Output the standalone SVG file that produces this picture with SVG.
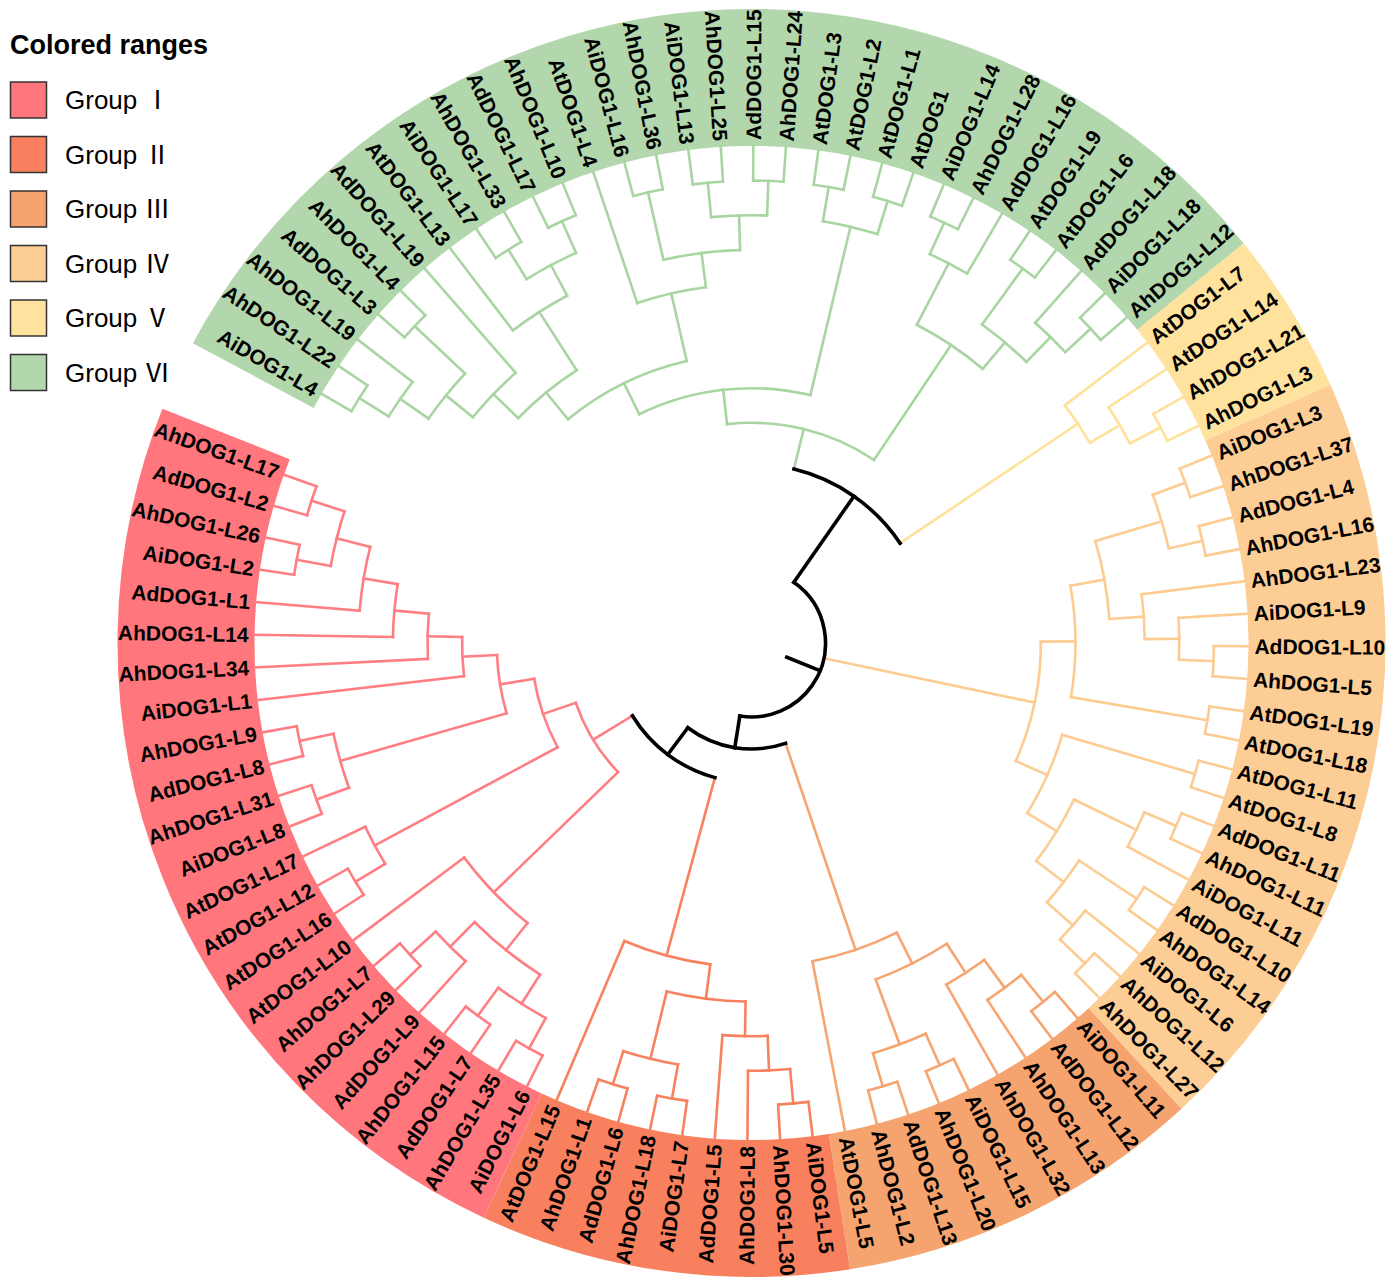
<svg xmlns="http://www.w3.org/2000/svg" width="1398" height="1286" viewBox="0 0 1398 1286">
<style>
.e line,.e circle{fill:none;stroke-linecap:square}
.g1{stroke:#FF7E84;stroke-width:2.6}
.g2{stroke:#F8825F;stroke-width:2.6}
.g3{stroke:#F6A570;stroke-width:2.6}
.g4{stroke:#FCCC92;stroke-width:2.6}
.g5{stroke:#FFE199;stroke-width:2.6}
.g6{stroke:#A9D5A2;stroke-width:2.6}
.k{stroke:#000;stroke-width:3.6}
.band{fill:none;stroke-width:137}
.t{font:bold 21px "Liberation Sans",Arial,sans-serif;fill:#000}
.f{text-anchor:end}
.lt{font:bold 27px "Liberation Sans",Arial,sans-serif;fill:#000}
.lg{font:26px "Liberation Sans","Noto Sans CJK SC",sans-serif;fill:#000}
.sq{stroke:#333;stroke-width:1.5}
</style>
<rect width="1398" height="1286" fill="#fff"/>
<g id="colored-ranges" transform="translate(751.5 643)">
<circle class="band" r="565.5" stroke="#B2D7AC" pathLength="360" stroke-dasharray="112.71 360" transform="rotate(208.22)"/>
<circle class="band" r="565.5" stroke="#FFE29E" pathLength="360" stroke-dasharray="15.03 360" transform="rotate(320.93)"/>
<circle class="band" r="565.5" stroke="#FDCD96" pathLength="360" stroke-dasharray="71.33 360" transform="rotate(335.96)"/>
<circle class="band" r="565.5" stroke="#F6A46F" pathLength="360" stroke-dasharray="33.76 360" transform="rotate(47.29)"/>
<circle class="band" r="565.5" stroke="#F8805F" pathLength="360" stroke-dasharray="33.93 360" transform="rotate(81.05)"/>
<circle class="band" r="565.5" stroke="#FF777C" pathLength="360" stroke-dasharray="86.71 360" transform="rotate(114.98)"/>
</g>
<g id="connectors" class="e" transform="translate(751.5 643)">
<g id="edges-group-VI" class="g6">
<line x1="462.4" x2="497" transform="rotate(210.1)"/>
<line x1="462.4" x2="497" transform="rotate(213.86)"/>
<line x1="427.8" x2="497" transform="rotate(217.61)"/>
<line x1="462.4" x2="497" transform="rotate(221.37)"/>
<line x1="462.4" x2="497" transform="rotate(225.13)"/>
<line x1="358.6" x2="497" transform="rotate(228.89)"/>
<line x1="393.2" x2="497" transform="rotate(232.64)"/>
<line x1="462.4" x2="497" transform="rotate(236.4)"/>
<line x1="462.4" x2="497" transform="rotate(240.16)"/>
<line x1="462.4" x2="497" transform="rotate(243.91)"/>
<line x1="462.4" x2="497" transform="rotate(247.67)"/>
<line x1="358.6" x2="497" transform="rotate(251.43)"/>
<line x1="462.4" x2="497" transform="rotate(255.18)"/>
<line x1="462.4" x2="497" transform="rotate(258.94)"/>
<line x1="462.4" x2="497" transform="rotate(262.7)"/>
<line x1="462.4" x2="497" transform="rotate(266.46)"/>
<line x1="462.4" x2="497" transform="rotate(270.21)"/>
<line x1="462.4" x2="497" transform="rotate(273.97)"/>
<line x1="462.4" x2="497" transform="rotate(277.73)"/>
<line x1="462.4" x2="497" transform="rotate(281.48)"/>
<line x1="462.4" x2="497" transform="rotate(285.24)"/>
<line x1="462.4" x2="497" transform="rotate(289)"/>
<line x1="462.4" x2="497" transform="rotate(292.75)"/>
<line x1="462.4" x2="497" transform="rotate(296.51)"/>
<line x1="427.8" x2="497" transform="rotate(300.27)"/>
<line x1="462.4" x2="497" transform="rotate(304.03)"/>
<line x1="462.4" x2="497" transform="rotate(307.78)"/>
<line x1="427.8" x2="497" transform="rotate(311.54)"/>
<line x1="462.4" x2="497" transform="rotate(315.3)"/>
<line x1="462.4" x2="497" transform="rotate(319.05)"/>
<circle r="462.4" pathLength="360" stroke-dasharray="3.76 360" transform="rotate(210.1)"/>
<line x1="427.8" x2="462.4" transform="rotate(211.98)"/>
<circle r="427.8" pathLength="360" stroke-dasharray="5.63 360" transform="rotate(211.98)"/>
<line x1="393.2" x2="427.8" transform="rotate(214.8)"/>
<circle r="462.4" pathLength="360" stroke-dasharray="3.76 360" transform="rotate(221.37)"/>
<line x1="393.2" x2="462.4" transform="rotate(223.25)"/>
<circle r="393.2" pathLength="360" stroke-dasharray="8.45 360" transform="rotate(214.8)"/>
<line x1="358.6" x2="393.2" transform="rotate(219.02)"/>
<circle r="358.6" pathLength="360" stroke-dasharray="9.87 360" transform="rotate(219.02)"/>
<line x1="324" x2="358.6" transform="rotate(223.96)"/>
<circle r="462.4" pathLength="360" stroke-dasharray="3.76 360" transform="rotate(236.4)"/>
<line x1="427.8" x2="462.4" transform="rotate(238.28)"/>
<circle r="462.4" pathLength="360" stroke-dasharray="3.76 360" transform="rotate(243.91)"/>
<line x1="427.8" x2="462.4" transform="rotate(245.79)"/>
<circle r="427.8" pathLength="360" stroke-dasharray="7.51 360" transform="rotate(238.28)"/>
<line x1="393.2" x2="427.8" transform="rotate(242.04)"/>
<circle r="393.2" pathLength="360" stroke-dasharray="9.4 360" transform="rotate(232.64)"/>
<line x1="324" x2="393.2" transform="rotate(237.34)"/>
<circle r="324" pathLength="360" stroke-dasharray="13.38 360" transform="rotate(223.96)"/>
<line x1="289.4" x2="324" transform="rotate(230.65)"/>
<circle r="462.4" pathLength="360" stroke-dasharray="3.76 360" transform="rotate(255.18)"/>
<line x1="393.2" x2="462.4" transform="rotate(257.06)"/>
<circle r="462.4" pathLength="360" stroke-dasharray="3.76 360" transform="rotate(262.7)"/>
<line x1="427.8" x2="462.4" transform="rotate(264.58)"/>
<circle r="462.4" pathLength="360" stroke-dasharray="3.76 360" transform="rotate(270.21)"/>
<line x1="427.8" x2="462.4" transform="rotate(272.09)"/>
<circle r="427.8" pathLength="360" stroke-dasharray="7.51 360" transform="rotate(264.58)"/>
<line x1="393.2" x2="427.8" transform="rotate(268.34)"/>
<circle r="393.2" pathLength="360" stroke-dasharray="11.28 360" transform="rotate(257.06)"/>
<line x1="358.6" x2="393.2" transform="rotate(262.7)"/>
<circle r="358.6" pathLength="360" stroke-dasharray="11.27 360" transform="rotate(251.43)"/>
<line x1="289.4" x2="358.6" transform="rotate(257.07)"/>
<circle r="289.4" pathLength="360" stroke-dasharray="26.42 360" transform="rotate(230.65)"/>
<line x1="254.8" x2="289.4" transform="rotate(243.86)"/>
<circle r="462.4" pathLength="360" stroke-dasharray="3.75 360" transform="rotate(277.73)"/>
<line x1="427.8" x2="462.4" transform="rotate(279.61)"/>
<circle r="462.4" pathLength="360" stroke-dasharray="3.76 360" transform="rotate(285.24)"/>
<line x1="427.8" x2="462.4" transform="rotate(287.12)"/>
<circle r="427.8" pathLength="360" stroke-dasharray="7.51 360" transform="rotate(279.61)"/>
<line x1="254.8" x2="427.8" transform="rotate(283.37)"/>
<circle r="254.8" pathLength="360" stroke-dasharray="39.51 360" transform="rotate(243.86)"/>
<line x1="220.2" x2="254.8" transform="rotate(263.62)"/>
<circle r="462.4" pathLength="360" stroke-dasharray="3.76 360" transform="rotate(292.75)"/>
<line x1="427.8" x2="462.4" transform="rotate(294.63)"/>
<circle r="427.8" pathLength="360" stroke-dasharray="5.64 360" transform="rotate(294.63)"/>
<line x1="358.6" x2="427.8" transform="rotate(297.45)"/>
<circle r="462.4" pathLength="360" stroke-dasharray="3.75 360" transform="rotate(304.03)"/>
<line x1="393.2" x2="462.4" transform="rotate(305.91)"/>
<circle r="462.4" pathLength="360" stroke-dasharray="3.75 360" transform="rotate(315.3)"/>
<line x1="427.8" x2="462.4" transform="rotate(317.18)"/>
<circle r="427.8" pathLength="360" stroke-dasharray="5.64 360" transform="rotate(311.54)"/>
<line x1="393.2" x2="427.8" transform="rotate(314.36)"/>
<circle r="393.2" pathLength="360" stroke-dasharray="8.45 360" transform="rotate(305.91)"/>
<line x1="358.6" x2="393.2" transform="rotate(310.14)"/>
<circle r="358.6" pathLength="360" stroke-dasharray="12.69 360" transform="rotate(297.45)"/>
<line x1="220.2" x2="358.6" transform="rotate(303.8)"/>
<circle r="220.2" pathLength="360" stroke-dasharray="40.18 360" transform="rotate(263.62)"/>
<line x1="179" x2="220.2" transform="rotate(283.71)"/>
</g>
<g id="edges-group-V" class="g5">
<line x1="393.2" x2="497" transform="rotate(322.81)"/>
<line x1="427.8" x2="497" transform="rotate(326.57)"/>
<line x1="462.4" x2="497" transform="rotate(330.32)"/>
<line x1="462.4" x2="497" transform="rotate(334.08)"/>
<circle r="462.4" pathLength="360" stroke-dasharray="3.76 360" transform="rotate(330.32)"/>
<line x1="427.8" x2="462.4" transform="rotate(332.2)"/>
<circle r="427.8" pathLength="360" stroke-dasharray="5.63 360" transform="rotate(326.57)"/>
<line x1="393.2" x2="427.8" transform="rotate(329.39)"/>
<circle r="393.2" pathLength="360" stroke-dasharray="6.58 360" transform="rotate(322.81)"/>
<line x1="179" x2="393.2" transform="rotate(326.1)"/>
</g>
<g id="edges-group-IV" class="g4">
<line x1="462.4" x2="497" transform="rotate(337.84)"/>
<line x1="462.4" x2="497" transform="rotate(341.6)"/>
<line x1="462.4" x2="497" transform="rotate(345.35)"/>
<line x1="462.4" x2="497" transform="rotate(349.11)"/>
<line x1="393.2" x2="497" transform="rotate(352.87)"/>
<line x1="427.8" x2="497" transform="rotate(356.62)"/>
<line x1="462.4" x2="497" transform="rotate(0.38)"/>
<line x1="462.4" x2="497" transform="rotate(4.14)"/>
<line x1="462.4" x2="497" transform="rotate(7.89)"/>
<line x1="462.4" x2="497" transform="rotate(11.32)"/>
<line x1="462.4" x2="497" transform="rotate(14.74)"/>
<line x1="462.4" x2="497" transform="rotate(18.17)"/>
<line x1="462.4" x2="497" transform="rotate(21.59)"/>
<line x1="462.4" x2="497" transform="rotate(25.02)"/>
<line x1="427.8" x2="497" transform="rotate(28.44)"/>
<line x1="462.4" x2="497" transform="rotate(31.87)"/>
<line x1="462.4" x2="497" transform="rotate(35.29)"/>
<line x1="427.8" x2="497" transform="rotate(38.72)"/>
<line x1="462.4" x2="497" transform="rotate(42.14)"/>
<line x1="462.4" x2="497" transform="rotate(45.57)"/>
<circle r="462.4" pathLength="360" stroke-dasharray="3.76 360" transform="rotate(337.84)"/>
<line x1="427.8" x2="462.4" transform="rotate(339.72)"/>
<circle r="462.4" pathLength="360" stroke-dasharray="3.76 360" transform="rotate(345.35)"/>
<line x1="427.8" x2="462.4" transform="rotate(347.23)"/>
<circle r="427.8" pathLength="360" stroke-dasharray="7.51 360" transform="rotate(339.72)"/>
<line x1="358.6" x2="427.8" transform="rotate(343.48)"/>
<circle r="462.4" pathLength="360" stroke-dasharray="3.76 360" transform="rotate(0.38)"/>
<line x1="427.8" x2="462.4" transform="rotate(2.26)"/>
<circle r="427.8" pathLength="360" stroke-dasharray="5.64 360" transform="rotate(356.62)"/>
<line x1="393.2" x2="427.8" transform="rotate(359.44)"/>
<circle r="393.2" pathLength="360" stroke-dasharray="6.57 360" transform="rotate(352.87)"/>
<line x1="358.6" x2="393.2" transform="rotate(356.16)"/>
<circle r="358.6" pathLength="360" stroke-dasharray="12.68 360" transform="rotate(343.48)"/>
<line x1="324" x2="358.6" transform="rotate(349.82)"/>
<circle r="462.4" pathLength="360" stroke-dasharray="3.43 360" transform="rotate(7.89)"/>
<line x1="324" x2="462.4" transform="rotate(9.61)"/>
<circle r="324" pathLength="360" stroke-dasharray="19.79 360" transform="rotate(349.82)"/>
<line x1="289.4" x2="324" transform="rotate(359.72)"/>
<circle r="462.4" pathLength="360" stroke-dasharray="3.43 360" transform="rotate(14.74)"/>
<line x1="324" x2="462.4" transform="rotate(16.46)"/>
<circle r="462.4" pathLength="360" stroke-dasharray="3.43 360" transform="rotate(21.59)"/>
<line x1="427.8" x2="462.4" transform="rotate(23.31)"/>
<circle r="427.8" pathLength="360" stroke-dasharray="5.13 360" transform="rotate(23.31)"/>
<line x1="358.6" x2="427.8" transform="rotate(25.88)"/>
<circle r="462.4" pathLength="360" stroke-dasharray="3.42 360" transform="rotate(31.87)"/>
<line x1="393.2" x2="462.4" transform="rotate(33.58)"/>
<circle r="462.4" pathLength="360" stroke-dasharray="3.43 360" transform="rotate(42.14)"/>
<line x1="427.8" x2="462.4" transform="rotate(43.86)"/>
<circle r="427.8" pathLength="360" stroke-dasharray="5.14 360" transform="rotate(38.72)"/>
<line x1="393.2" x2="427.8" transform="rotate(41.29)"/>
<circle r="393.2" pathLength="360" stroke-dasharray="7.71 360" transform="rotate(33.58)"/>
<line x1="358.6" x2="393.2" transform="rotate(37.44)"/>
<circle r="358.6" pathLength="360" stroke-dasharray="11.56 360" transform="rotate(25.88)"/>
<line x1="324" x2="358.6" transform="rotate(31.66)"/>
<circle r="324" pathLength="360" stroke-dasharray="15.2 360" transform="rotate(16.46)"/>
<line x1="289.4" x2="324" transform="rotate(24.06)"/>
<circle r="289.4" pathLength="360" stroke-dasharray="24.34 360" transform="rotate(359.72)"/>
<line x1="74" x2="289.4" transform="rotate(11.89)"/>
</g>
<g id="edges-group-III" class="g3">
<line x1="462.4" x2="497" transform="rotate(49)"/>
<line x1="462.4" x2="497" transform="rotate(52.77)"/>
<line x1="427.8" x2="497" transform="rotate(56.54)"/>
<line x1="393.2" x2="497" transform="rotate(60.31)"/>
<line x1="462.4" x2="497" transform="rotate(64.08)"/>
<line x1="462.4" x2="497" transform="rotate(67.85)"/>
<line x1="462.4" x2="497" transform="rotate(71.62)"/>
<line x1="462.4" x2="497" transform="rotate(75.39)"/>
<line x1="324" x2="497" transform="rotate(79.16)"/>
<circle r="462.4" pathLength="360" stroke-dasharray="3.77 360" transform="rotate(49)"/>
<line x1="427.8" x2="462.4" transform="rotate(50.89)"/>
<circle r="427.8" pathLength="360" stroke-dasharray="5.65 360" transform="rotate(50.89)"/>
<line x1="393.2" x2="427.8" transform="rotate(53.71)"/>
<circle r="393.2" pathLength="360" stroke-dasharray="6.6 360" transform="rotate(53.71)"/>
<line x1="358.6" x2="393.2" transform="rotate(57.01)"/>
<circle r="462.4" pathLength="360" stroke-dasharray="3.77 360" transform="rotate(64.08)"/>
<line x1="427.8" x2="462.4" transform="rotate(65.97)"/>
<circle r="462.4" pathLength="360" stroke-dasharray="3.77 360" transform="rotate(71.62)"/>
<line x1="427.8" x2="462.4" transform="rotate(73.51)"/>
<circle r="427.8" pathLength="360" stroke-dasharray="7.54 360" transform="rotate(65.97)"/>
<line x1="358.6" x2="427.8" transform="rotate(69.74)"/>
<circle r="358.6" pathLength="360" stroke-dasharray="12.73 360" transform="rotate(57.01)"/>
<line x1="324" x2="358.6" transform="rotate(63.37)"/>
<circle r="324" pathLength="360" stroke-dasharray="15.79 360" transform="rotate(63.37)"/>
<line x1="106" x2="324" transform="rotate(71.27)"/>
</g>
<g id="edges-group-II" class="g2">
<line x1="462.4" x2="497" transform="rotate(82.93)"/>
<line x1="462.4" x2="497" transform="rotate(86.7)"/>
<line x1="427.8" x2="497" transform="rotate(90.47)"/>
<line x1="393.2" x2="497" transform="rotate(94.24)"/>
<line x1="462.4" x2="497" transform="rotate(98.01)"/>
<line x1="462.4" x2="497" transform="rotate(101.78)"/>
<line x1="462.4" x2="497" transform="rotate(105.55)"/>
<line x1="462.4" x2="497" transform="rotate(109.32)"/>
<line x1="324" x2="497" transform="rotate(113.09)"/>
<circle r="462.4" pathLength="360" stroke-dasharray="3.77 360" transform="rotate(82.93)"/>
<line x1="427.8" x2="462.4" transform="rotate(84.82)"/>
<circle r="427.8" pathLength="360" stroke-dasharray="5.65 360" transform="rotate(84.82)"/>
<line x1="393.2" x2="427.8" transform="rotate(87.65)"/>
<circle r="393.2" pathLength="360" stroke-dasharray="6.59 360" transform="rotate(87.65)"/>
<line x1="358.6" x2="393.2" transform="rotate(90.95)"/>
<circle r="462.4" pathLength="360" stroke-dasharray="3.77 360" transform="rotate(98.01)"/>
<line x1="427.8" x2="462.4" transform="rotate(99.9)"/>
<circle r="462.4" pathLength="360" stroke-dasharray="3.77 360" transform="rotate(105.55)"/>
<line x1="427.8" x2="462.4" transform="rotate(107.44)"/>
<circle r="427.8" pathLength="360" stroke-dasharray="7.54 360" transform="rotate(99.9)"/>
<line x1="358.6" x2="427.8" transform="rotate(103.67)"/>
<circle r="358.6" pathLength="360" stroke-dasharray="12.72 360" transform="rotate(90.95)"/>
<line x1="324" x2="358.6" transform="rotate(97.31)"/>
<circle r="324" pathLength="360" stroke-dasharray="15.78 360" transform="rotate(97.31)"/>
<line x1="139.5" x2="324" transform="rotate(105.2)"/>
</g>
<g id="edges-group-I" class="g1">
<line x1="462.4" x2="497" transform="rotate(116.86)"/>
<line x1="462.4" x2="497" transform="rotate(120.63)"/>
<line x1="462.4" x2="497" transform="rotate(124.4)"/>
<line x1="462.4" x2="497" transform="rotate(128.17)"/>
<line x1="427.8" x2="497" transform="rotate(131.94)"/>
<line x1="462.4" x2="497" transform="rotate(135.71)"/>
<line x1="462.4" x2="497" transform="rotate(139.48)"/>
<line x1="358.6" x2="497" transform="rotate(143.25)"/>
<line x1="462.4" x2="497" transform="rotate(147.02)"/>
<line x1="462.4" x2="497" transform="rotate(150.79)"/>
<line x1="427.8" x2="497" transform="rotate(154.56)"/>
<line x1="462.4" x2="497" transform="rotate(158.33)"/>
<line x1="462.4" x2="497" transform="rotate(162.1)"/>
<line x1="462.4" x2="497" transform="rotate(165.87)"/>
<line x1="462.4" x2="497" transform="rotate(169.64)"/>
<line x1="289.4" x2="497" transform="rotate(173.41)"/>
<line x1="324" x2="497" transform="rotate(177.18)"/>
<line x1="358.6" x2="497" transform="rotate(180.95)"/>
<line x1="393.2" x2="497" transform="rotate(184.72)"/>
<line x1="462.4" x2="497" transform="rotate(188.49)"/>
<line x1="462.4" x2="497" transform="rotate(192.26)"/>
<line x1="462.4" x2="497" transform="rotate(196.03)"/>
<line x1="462.4" x2="497" transform="rotate(199.8)"/>
<circle r="462.4" pathLength="360" stroke-dasharray="3.77 360" transform="rotate(116.86)"/>
<line x1="427.8" x2="462.4" transform="rotate(118.75)"/>
<circle r="462.4" pathLength="360" stroke-dasharray="3.77 360" transform="rotate(124.4)"/>
<line x1="427.8" x2="462.4" transform="rotate(126.29)"/>
<circle r="427.8" pathLength="360" stroke-dasharray="7.54 360" transform="rotate(118.75)"/>
<line x1="393.2" x2="427.8" transform="rotate(122.52)"/>
<circle r="462.4" pathLength="360" stroke-dasharray="3.77 360" transform="rotate(135.71)"/>
<line x1="427.8" x2="462.4" transform="rotate(137.6)"/>
<circle r="427.8" pathLength="360" stroke-dasharray="5.66 360" transform="rotate(131.94)"/>
<line x1="393.2" x2="427.8" transform="rotate(134.77)"/>
<circle r="393.2" pathLength="360" stroke-dasharray="12.25 360" transform="rotate(122.52)"/>
<line x1="358.6" x2="393.2" transform="rotate(128.65)"/>
<circle r="358.6" pathLength="360" stroke-dasharray="14.6 360" transform="rotate(128.65)"/>
<line x1="185.6" x2="358.6" transform="rotate(135.95)"/>
<circle r="462.4" pathLength="360" stroke-dasharray="3.77 360" transform="rotate(147.02)"/>
<line x1="427.8" x2="462.4" transform="rotate(148.91)"/>
<circle r="427.8" pathLength="360" stroke-dasharray="5.65 360" transform="rotate(148.91)"/>
<line x1="220.2" x2="427.8" transform="rotate(151.74)"/>
<circle r="462.4" pathLength="360" stroke-dasharray="3.77 360" transform="rotate(158.33)"/>
<line x1="427.8" x2="462.4" transform="rotate(160.22)"/>
<circle r="462.4" pathLength="360" stroke-dasharray="3.77 360" transform="rotate(165.87)"/>
<line x1="427.8" x2="462.4" transform="rotate(167.76)"/>
<circle r="427.8" pathLength="360" stroke-dasharray="7.54 360" transform="rotate(160.22)"/>
<line x1="254.8" x2="427.8" transform="rotate(163.99)"/>
<circle r="462.4" pathLength="360" stroke-dasharray="3.77 360" transform="rotate(188.49)"/>
<line x1="427.8" x2="462.4" transform="rotate(190.38)"/>
<circle r="462.4" pathLength="360" stroke-dasharray="3.77 360" transform="rotate(196.03)"/>
<line x1="427.8" x2="462.4" transform="rotate(197.92)"/>
<circle r="427.8" pathLength="360" stroke-dasharray="7.54 360" transform="rotate(190.38)"/>
<line x1="393.2" x2="427.8" transform="rotate(194.15)"/>
<circle r="393.2" pathLength="360" stroke-dasharray="9.43 360" transform="rotate(184.72)"/>
<line x1="358.6" x2="393.2" transform="rotate(189.44)"/>
<circle r="358.6" pathLength="360" stroke-dasharray="8.49 360" transform="rotate(180.95)"/>
<line x1="324" x2="358.6" transform="rotate(185.2)"/>
<circle r="324" pathLength="360" stroke-dasharray="8.02 360" transform="rotate(177.18)"/>
<line x1="289.4" x2="324" transform="rotate(181.19)"/>
<circle r="289.4" pathLength="360" stroke-dasharray="7.78 360" transform="rotate(173.41)"/>
<line x1="254.8" x2="289.4" transform="rotate(177.3)"/>
<circle r="254.8" pathLength="360" stroke-dasharray="13.31 360" transform="rotate(163.99)"/>
<line x1="220.2" x2="254.8" transform="rotate(170.65)"/>
<circle r="220.2" pathLength="360" stroke-dasharray="18.91 360" transform="rotate(151.74)"/>
<line x1="185.6" x2="220.2" transform="rotate(161.2)"/>
<circle r="185.6" pathLength="360" stroke-dasharray="25.25 360" transform="rotate(135.95)"/>
<line x1="139.5" x2="185.6" transform="rotate(148.58)"/>
</g>
<g id="edges-root" class="k">
<circle r="139.5" pathLength="360" stroke-dasharray="43.38 360" transform="rotate(105.2)"/>
<line x1="106" x2="139.5" transform="rotate(126.89)"/>
<circle r="106" pathLength="360" stroke-dasharray="55.62 360" transform="rotate(71.27)"/>
<line x1="74" x2="106" transform="rotate(99.08)"/>
<circle r="179" pathLength="360" stroke-dasharray="42.39 360" transform="rotate(283.71)"/>
<line x1="74" x2="179" transform="rotate(304.91)"/>
<circle r="74" pathLength="360" stroke-dasharray="154.17 360" transform="rotate(304.91)"/>
<line x1="38" x2="74" transform="rotate(21.99)"/>
</g>
</g>
<g id="leaves" transform="translate(751.5 643)">
<g id="leaf00"><text class="t f" transform="rotate(30.1)" x="-503" dy=".36em">AiDOG1-L4</text></g>
<g id="leaf01"><text class="t f" transform="rotate(33.86)" x="-503" dy=".36em">AhDOG1-L22</text></g>
<g id="leaf02"><text class="t f" transform="rotate(37.61)" x="-503" dy=".36em">AhDOG1-L19</text></g>
<g id="leaf03"><text class="t f" transform="rotate(41.37)" x="-503" dy=".36em">AdDOG1-L3</text></g>
<g id="leaf04"><text class="t f" transform="rotate(45.13)" x="-503" dy=".36em">AhDOG1-L4</text></g>
<g id="leaf05"><text class="t f" transform="rotate(48.89)" x="-503" dy=".36em">AdDOG1-L19</text></g>
<g id="leaf06"><text class="t f" transform="rotate(52.64)" x="-503" dy=".36em">AtDOG1-L13</text></g>
<g id="leaf07"><text class="t f" transform="rotate(56.4)" x="-503" dy=".36em">AiDOG1-L17</text></g>
<g id="leaf08"><text class="t f" transform="rotate(60.16)" x="-503" dy=".36em">AhDOG1-L33</text></g>
<g id="leaf09"><text class="t f" transform="rotate(63.91)" x="-503" dy=".36em">AdDOG1-L17</text></g>
<g id="leaf10"><text class="t f" transform="rotate(67.67)" x="-503" dy=".36em">AhDOG1-L10</text></g>
<g id="leaf11"><text class="t f" transform="rotate(71.43)" x="-503" dy=".36em">AtDOG1-L4</text></g>
<g id="leaf12"><text class="t f" transform="rotate(75.18)" x="-503" dy=".36em">AiDOG1-L16</text></g>
<g id="leaf13"><text class="t f" transform="rotate(78.94)" x="-503" dy=".36em">AhDOG1-L36</text></g>
<g id="leaf14"><text class="t f" transform="rotate(82.7)" x="-503" dy=".36em">AiDOG1-L13</text></g>
<g id="leaf15"><text class="t f" transform="rotate(86.46)" x="-503" dy=".36em">AhDOG1-L25</text></g>
<g id="leaf16"><text class="t" transform="rotate(270.21)" x="503" dy=".36em">AdDOG1-L15</text></g>
<g id="leaf17"><text class="t" transform="rotate(273.97)" x="503" dy=".36em">AhDOG1-L24</text></g>
<g id="leaf18"><text class="t" transform="rotate(277.73)" x="503" dy=".36em">AtDOG1-L3</text></g>
<g id="leaf19"><text class="t" transform="rotate(281.48)" x="503" dy=".36em">AtDOG1-L2</text></g>
<g id="leaf20"><text class="t" transform="rotate(285.24)" x="503" dy=".36em">AtDOG1-L1</text></g>
<g id="leaf21"><text class="t" transform="rotate(289)" x="503" dy=".36em">AtDOG1</text></g>
<g id="leaf22"><text class="t" transform="rotate(292.75)" x="503" dy=".36em">AiDOG1-L14</text></g>
<g id="leaf23"><text class="t" transform="rotate(296.51)" x="503" dy=".36em">AhDOG1-L28</text></g>
<g id="leaf24"><text class="t" transform="rotate(300.27)" x="503" dy=".36em">AdDOG1-L16</text></g>
<g id="leaf25"><text class="t" transform="rotate(304.03)" x="503" dy=".36em">AtDOG1-L9</text></g>
<g id="leaf26"><text class="t" transform="rotate(307.78)" x="503" dy=".36em">AtDOG1-L6</text></g>
<g id="leaf27"><text class="t" transform="rotate(311.54)" x="503" dy=".36em">AdDOG1-L18</text></g>
<g id="leaf28"><text class="t" transform="rotate(315.3)" x="503" dy=".36em">AiDOG1-L18</text></g>
<g id="leaf29"><text class="t" transform="rotate(319.05)" x="503" dy=".36em">AhDOG1-L12</text></g>
<g id="leaf30"><text class="t" transform="rotate(322.81)" x="503" dy=".36em">AtDOG1-L7</text></g>
<g id="leaf31"><text class="t" transform="rotate(326.57)" x="503" dy=".36em">AtDOG1-L14</text></g>
<g id="leaf32"><text class="t" transform="rotate(330.32)" x="503" dy=".36em">AhDOG1-L21</text></g>
<g id="leaf33"><text class="t" transform="rotate(334.08)" x="503" dy=".36em">AhDOG1-L3</text></g>
<g id="leaf34"><text class="t" transform="rotate(337.84)" x="503" dy=".36em">AiDOG1-L3</text></g>
<g id="leaf35"><text class="t" transform="rotate(341.6)" x="503" dy=".36em">AhDOG1-L37</text></g>
<g id="leaf36"><text class="t" transform="rotate(345.35)" x="503" dy=".36em">AdDOG1-L4</text></g>
<g id="leaf37"><text class="t" transform="rotate(349.11)" x="503" dy=".36em">AhDOG1-L16</text></g>
<g id="leaf38"><text class="t" transform="rotate(352.87)" x="503" dy=".36em">AhDOG1-L23</text></g>
<g id="leaf39"><text class="t" transform="rotate(356.62)" x="503" dy=".36em">AiDOG1-L9</text></g>
<g id="leaf40"><text class="t" transform="rotate(0.38)" x="503" dy=".36em">AdDOG1-L10</text></g>
<g id="leaf41"><text class="t" transform="rotate(4.14)" x="503" dy=".36em">AhDOG1-L5</text></g>
<g id="leaf42"><text class="t" transform="rotate(7.89)" x="503" dy=".36em">AtDOG1-L19</text></g>
<g id="leaf43"><text class="t" transform="rotate(11.32)" x="503" dy=".36em">AtDOG1-L18</text></g>
<g id="leaf44"><text class="t" transform="rotate(14.74)" x="503" dy=".36em">AtDOG1-L11</text></g>
<g id="leaf45"><text class="t" transform="rotate(18.17)" x="503" dy=".36em">AtDOG1-L8</text></g>
<g id="leaf46"><text class="t" transform="rotate(21.59)" x="503" dy=".36em">AdDOG1-L11</text></g>
<g id="leaf47"><text class="t" transform="rotate(25.02)" x="503" dy=".36em">AhDOG1-L11</text></g>
<g id="leaf48"><text class="t" transform="rotate(28.44)" x="503" dy=".36em">AiDOG1-L11</text></g>
<g id="leaf49"><text class="t" transform="rotate(31.87)" x="503" dy=".36em">AdDOG1-L10</text></g>
<g id="leaf50"><text class="t" transform="rotate(35.29)" x="503" dy=".36em">AhDOG1-L14</text></g>
<g id="leaf51"><text class="t" transform="rotate(38.72)" x="503" dy=".36em">AiDOG1-L6</text></g>
<g id="leaf52"><text class="t" transform="rotate(42.14)" x="503" dy=".36em">AhDOG1-L12</text></g>
<g id="leaf53"><text class="t" transform="rotate(45.57)" x="503" dy=".36em">AhDOG1-L27</text></g>
<g id="leaf54"><text class="t" transform="rotate(49)" x="503" dy=".36em">AiDOG1-L11</text></g>
<g id="leaf55"><text class="t" transform="rotate(52.77)" x="503" dy=".36em">AdDOG1-L12</text></g>
<g id="leaf56"><text class="t" transform="rotate(56.54)" x="503" dy=".36em">AhDOG1-L13</text></g>
<g id="leaf57"><text class="t" transform="rotate(60.31)" x="503" dy=".36em">AhDOG1-L32</text></g>
<g id="leaf58"><text class="t" transform="rotate(64.08)" x="503" dy=".36em">AiDOG1-L15</text></g>
<g id="leaf59"><text class="t" transform="rotate(67.85)" x="503" dy=".36em">AhDOG1-L20</text></g>
<g id="leaf60"><text class="t" transform="rotate(71.62)" x="503" dy=".36em">AdDOG1-L13</text></g>
<g id="leaf61"><text class="t" transform="rotate(75.39)" x="503" dy=".36em">AhDOG1-L2</text></g>
<g id="leaf62"><text class="t" transform="rotate(79.16)" x="503" dy=".36em">AtDOG1-L5</text></g>
<g id="leaf63"><text class="t" transform="rotate(82.93)" x="503" dy=".36em">AiDOG1-L5</text></g>
<g id="leaf64"><text class="t" transform="rotate(86.7)" x="503" dy=".36em">AhDOG1-L30</text></g>
<g id="leaf65"><text class="t f" transform="rotate(-89.53)" x="-503" dy=".36em">AhDOG1-L8</text></g>
<g id="leaf66"><text class="t f" transform="rotate(-85.76)" x="-503" dy=".36em">AdDOG1-L5</text></g>
<g id="leaf67"><text class="t f" transform="rotate(-81.99)" x="-503" dy=".36em">AiDOG1-L7</text></g>
<g id="leaf68"><text class="t f" transform="rotate(-78.22)" x="-503" dy=".36em">AhDOG1-L18</text></g>
<g id="leaf69"><text class="t f" transform="rotate(-74.45)" x="-503" dy=".36em">AdDOG1-L6</text></g>
<g id="leaf70"><text class="t f" transform="rotate(-70.68)" x="-503" dy=".36em">AhDOG1-L1</text></g>
<g id="leaf71"><text class="t f" transform="rotate(-66.91)" x="-503" dy=".36em">AtDOG1-L15</text></g>
<g id="leaf72"><text class="t f" transform="rotate(-63.14)" x="-503" dy=".36em">AiDOG1-L6</text></g>
<g id="leaf73"><text class="t f" transform="rotate(-59.37)" x="-503" dy=".36em">AhDOG1-L35</text></g>
<g id="leaf74"><text class="t f" transform="rotate(-55.6)" x="-503" dy=".36em">AdDOG1-L7</text></g>
<g id="leaf75"><text class="t f" transform="rotate(-51.83)" x="-503" dy=".36em">AhDOG1-L15</text></g>
<g id="leaf76"><text class="t f" transform="rotate(-48.06)" x="-503" dy=".36em">AdDOG1-L9</text></g>
<g id="leaf77"><text class="t f" transform="rotate(-44.29)" x="-503" dy=".36em">AhDOG1-L29</text></g>
<g id="leaf78"><text class="t f" transform="rotate(-40.52)" x="-503" dy=".36em">AhDOG1-L7</text></g>
<g id="leaf79"><text class="t f" transform="rotate(-36.75)" x="-503" dy=".36em">AtDOG1-L10</text></g>
<g id="leaf80"><text class="t f" transform="rotate(-32.98)" x="-503" dy=".36em">AtDOG1-L16</text></g>
<g id="leaf81"><text class="t f" transform="rotate(-29.21)" x="-503" dy=".36em">AtDOG1-L12</text></g>
<g id="leaf82"><text class="t f" transform="rotate(-25.44)" x="-503" dy=".36em">AtDOG1-L17</text></g>
<g id="leaf83"><text class="t f" transform="rotate(-21.67)" x="-503" dy=".36em">AiDOG1-L8</text></g>
<g id="leaf84"><text class="t f" transform="rotate(-17.9)" x="-503" dy=".36em">AhDOG1-L31</text></g>
<g id="leaf85"><text class="t f" transform="rotate(-14.13)" x="-503" dy=".36em">AdDOG1-L8</text></g>
<g id="leaf86"><text class="t f" transform="rotate(-10.36)" x="-503" dy=".36em">AhDOG1-L9</text></g>
<g id="leaf87"><text class="t f" transform="rotate(-6.59)" x="-503" dy=".36em">AiDOG1-L1</text></g>
<g id="leaf88"><text class="t f" transform="rotate(-2.82)" x="-503" dy=".36em">AhDOG1-L34</text></g>
<g id="leaf89"><text class="t f" transform="rotate(0.95)" x="-503" dy=".36em">AhDOG1-L14</text></g>
<g id="leaf90"><text class="t f" transform="rotate(4.72)" x="-503" dy=".36em">AdDOG1-L1</text></g>
<g id="leaf91"><text class="t f" transform="rotate(8.49)" x="-503" dy=".36em">AiDOG1-L2</text></g>
<g id="leaf92"><text class="t f" transform="rotate(12.26)" x="-503" dy=".36em">AhDOG1-L26</text></g>
<g id="leaf93"><text class="t f" transform="rotate(16.03)" x="-503" dy=".36em">AdDOG1-L2</text></g>
<g id="leaf94"><text class="t f" transform="rotate(19.8)" x="-503" dy=".36em">AhDOG1-L17</text></g>
</g>
<g id="legend">
<text class="lt" x="10" y="54">Colored ranges</text>
<g id="legend-group-I"><rect class="sq" x="10.5" y="82" width="36" height="36" fill="#FF777C"/><text class="lg" x="65" y="109">Group Ⅰ</text></g>
<g id="legend-group-II"><rect class="sq" x="10.5" y="136.5" width="36" height="36" fill="#F8805F"/><text class="lg" x="65" y="163.5">Group Ⅱ</text></g>
<g id="legend-group-III"><rect class="sq" x="10.5" y="191" width="36" height="36" fill="#F6A46F"/><text class="lg" x="65" y="218">Group Ⅲ</text></g>
<g id="legend-group-IV"><rect class="sq" x="10.5" y="245.5" width="36" height="36" fill="#FDCD96"/><text class="lg" x="65" y="272.5">Group Ⅳ</text></g>
<g id="legend-group-V"><rect class="sq" x="10.5" y="300" width="36" height="36" fill="#FFE29E"/><text class="lg" x="65" y="327">Group Ⅴ</text></g>
<g id="legend-group-VI"><rect class="sq" x="10.5" y="354.5" width="36" height="36" fill="#B2D7AC"/><text class="lg" x="65" y="381.5">Group Ⅵ</text></g>
</g>
</svg>
